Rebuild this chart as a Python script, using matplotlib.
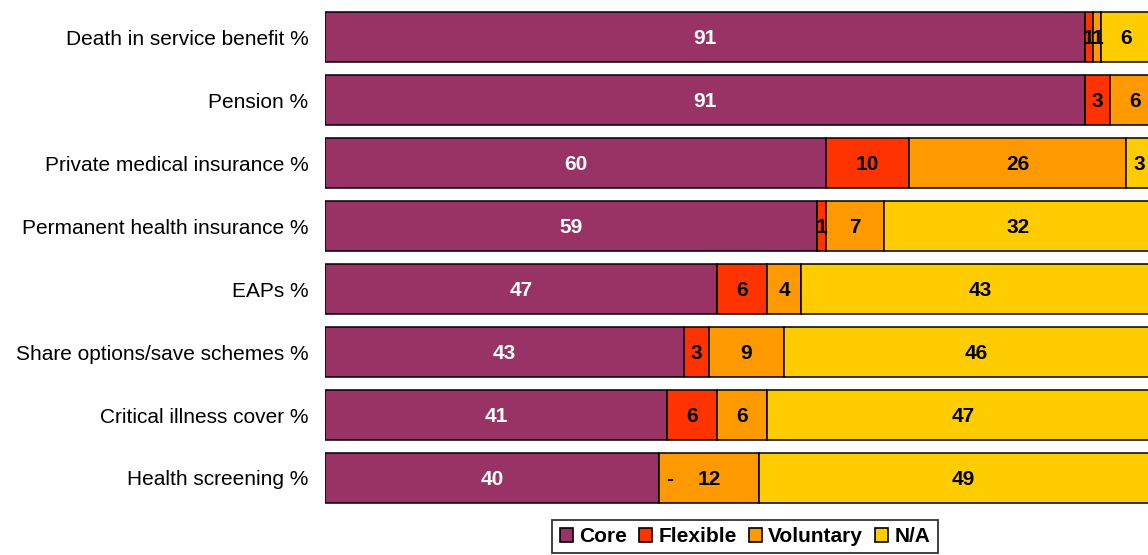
import numpy as np
import matplotlib.pyplot as plt
from matplotlib.patches import Patch

plt.rcParams['font.family'] = ['Liberation Sans', 'DejaVu Sans']

categories = ['Death in service benefit %', 'Pension %', 'Private medical insurance %',
              'Permanent health insurance %', 'EAPs %', 'Share options/save schemes %',
              'Critical illness cover %', 'Health screening %']
core = [91, 91, 60, 59, 47, 43, 41, 40]
flexible = [1, 3, 10, 1, 6, 3, 6, 0]
voluntary = [1, 6, 26, 7, 4, 9, 6, 12]
na = [6, 0, 3, 32, 43, 46, 47, 49]

series = [('Core', core, '#993366', 'white'),
          ('Flexible', flexible, '#FF3300', 'black'),
          ('Voluntary', voluntary, '#FF9900', 'black'),
          ('N/A', na, '#FFCC00', 'black')]

fig = plt.figure(figsize=(11.48, 5.55), dpi=100)
ax = fig.add_axes([325 / 1148, 0.082, 1 - 325 / 1148, 0.908])

y = np.arange(len(categories))
left = np.zeros(len(categories))
for name, vals, col, tcol in series:
    vals = np.array(vals, dtype=float)
    ax.barh(y, vals, left=left, height=0.79, color=col, edgecolor='black', linewidth=1.1)
    for i, v in enumerate(vals):
        if v == 0:
            # zero flexible share is printed as a dash
            if name == 'Flexible':
                ax.text(left[i] + 1.3, y[i] + 0.02, '-', ha='center', va='center',
                        fontsize=15, fontweight='bold', color=tcol)
            continue
        ax.text(left[i] + v / 2, y[i] + 0.02, '%d' % v, ha='center', va='center',
                fontsize=15, fontweight='bold', color=tcol)
    left += vals

ax.set_xlim(0, 98.6)
ax.set_ylim(len(categories) - 0.5, -0.5)
ax.set_yticks(y)
ax.set_yticklabels(categories, fontsize=15)
ax.tick_params(axis='y', length=0, pad=12)
ax.set_xticks([])
for s in ax.spines.values():
    s.set_visible(False)

handles = [Patch(facecolor=c, edgecolor='black', linewidth=1.2, label=n) for n, _, c, _ in series]
leg = fig.legend(handles=handles, loc='lower center', bbox_to_anchor=(0.649, -0.016), ncol=4,
                 frameon=True, fancybox=False, edgecolor='black', handlelength=0.65,
                 handleheight=0.65, handletextpad=0.3, columnspacing=0.55,
                 borderpad=0.35, prop={'weight': 'bold', 'size': 15})
leg.get_frame().set_linewidth(1.3)

fig.savefig('out.png', dpi=100)
